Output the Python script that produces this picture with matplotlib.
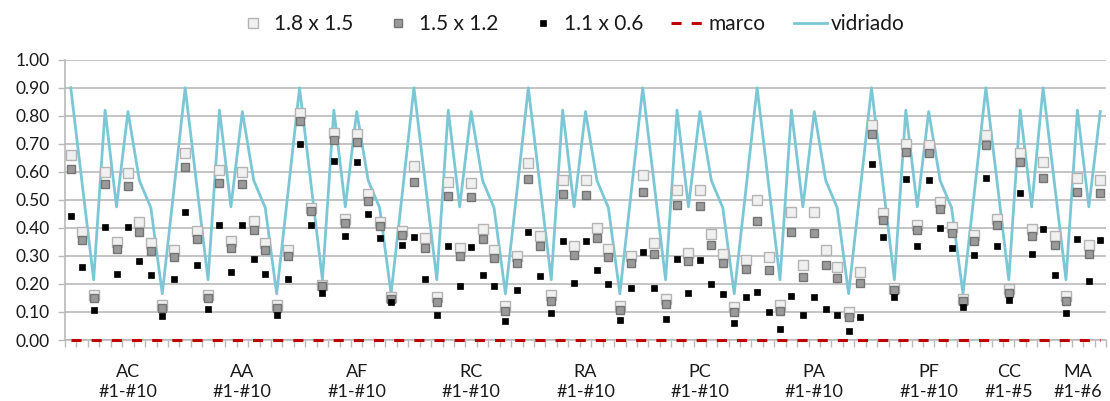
import matplotlib
matplotlib.use("Agg")
import matplotlib.pyplot as plt
from matplotlib.ticker import FixedLocator, FormatStrFormatter

plt.rcParams['font.family'] = ['Lato', 'DejaVu Sans']

groups = ["AC", "AA", "AF", "RC", "RA", "PC", "PA", "PF", "CC", "MA"]
group_ranges = ["#1-#10"] * 8 + ["#1-#5", "#1-#6"]
group_sizes = [10, 10, 10, 10, 10, 10, 10, 10, 5, 6]
label_slot = [5, 5, 5, 5, 5, 5, 5, 5, 2, 3]   # which point of each group carries the label

s_18x15 = [
    0.66, 0.385, 0.16, 0.60, 0.35, 0.595, 0.42, 0.345, 0.125, 0.32,      # AC
    0.667, 0.39, 0.16, 0.605, 0.355, 0.60, 0.425, 0.345, 0.125, 0.32,    # AA
    0.81, 0.47, 0.195, 0.74, 0.43, 0.735, 0.52, 0.42, 0.155, 0.39,       # AF
    0.62, 0.365, 0.155, 0.565, 0.33, 0.56, 0.395, 0.32, 0.12, 0.30,      # RC
    0.63, 0.37, 0.16, 0.57, 0.335, 0.57, 0.40, 0.325, 0.12, 0.30,        # RA
    0.59, 0.345, 0.147, 0.535, 0.312, 0.535, 0.377, 0.306, 0.118, 0.285, # PC
    0.50, 0.295, 0.126, 0.458, 0.267, 0.456, 0.321, 0.259, 0.10, 0.243,  # PA
    0.767, 0.453, 0.187, 0.70, 0.412, 0.695, 0.492, 0.404, 0.146, 0.373, # PF
    0.73, 0.43, 0.181, 0.667, 0.395,                                     # CC
    0.635, 0.372, 0.158, 0.577, 0.338, 0.572,                            # MA
]
s_15x12 = [
    0.61, 0.358, 0.149, 0.556, 0.323, 0.551, 0.387, 0.316, 0.115, 0.295,
    0.617, 0.359, 0.150, 0.560, 0.328, 0.556, 0.392, 0.321, 0.115, 0.299,
    0.781, 0.459, 0.191, 0.712, 0.416, 0.706, 0.496, 0.406, 0.148, 0.376,
    0.565, 0.329, 0.135, 0.513, 0.299, 0.509, 0.359, 0.293, 0.104, 0.273,
    0.573, 0.336, 0.139, 0.522, 0.305, 0.518, 0.364, 0.297, 0.107, 0.276,
    0.528, 0.308, 0.127, 0.481, 0.281, 0.477, 0.338, 0.274, 0.10, 0.255,
    0.424, 0.249, 0.104, 0.387, 0.225, 0.383, 0.269, 0.220, 0.081, 0.203,
    0.736, 0.429, 0.178, 0.671, 0.391, 0.667, 0.468, 0.383, 0.140, 0.355,
    0.697, 0.409, 0.169, 0.635, 0.371,
    0.579, 0.339, 0.140, 0.528, 0.308, 0.524,
]
s_11x06 = [
    0.444, 0.259, 0.108, 0.404, 0.236, 0.403, 0.283, 0.232, 0.085, 0.217,
    0.455, 0.267, 0.110, 0.412, 0.243, 0.411, 0.290, 0.237, 0.088, 0.219,
    0.701, 0.411, 0.169, 0.640, 0.372, 0.634, 0.448, 0.365, 0.134, 0.338,
    0.368, 0.217, 0.088, 0.335, 0.194, 0.333, 0.233, 0.191, 0.069, 0.179,
    0.387, 0.229, 0.095, 0.354, 0.205, 0.352, 0.248, 0.201, 0.072, 0.187,
    0.315, 0.185, 0.076, 0.288, 0.168, 0.286, 0.200, 0.164, 0.060, 0.153,
    0.172, 0.101, 0.041, 0.158, 0.090, 0.155, 0.110, 0.089, 0.033, 0.083,
    0.629, 0.368, 0.153, 0.573, 0.334, 0.570, 0.400, 0.327, 0.118, 0.302,
    0.577, 0.336, 0.141, 0.525, 0.307,
    0.397, 0.231, 0.095, 0.360, 0.212, 0.358,
]
vidriado = [
    0.90, 0.557, 0.215, 0.82, 0.475, 0.815, 0.569, 0.472, 0.165, 0.53,   # AC
    0.90, 0.557, 0.215, 0.82, 0.475, 0.815, 0.569, 0.472, 0.165, 0.53,   # AA
    0.90, 0.557, 0.215, 0.82, 0.475, 0.815, 0.569, 0.472, 0.165, 0.53,   # AF
    0.90, 0.557, 0.215, 0.82, 0.475, 0.815, 0.569, 0.472, 0.165, 0.53,   # RC
    0.90, 0.557, 0.215, 0.82, 0.475, 0.815, 0.569, 0.472, 0.165, 0.53,   # RA
    0.90, 0.557, 0.215, 0.82, 0.475, 0.815, 0.569, 0.472, 0.165, 0.53,   # PC
    0.90, 0.557, 0.215, 0.82, 0.475, 0.815, 0.569, 0.472, 0.165, 0.53,   # PA
    0.90, 0.557, 0.215, 0.82, 0.475, 0.815, 0.569, 0.472, 0.165, 0.53,   # PF
    0.90, 0.557, 0.215, 0.82, 0.475,                                     # CC
    0.90, 0.557, 0.215, 0.82, 0.475, 0.815,                              # MA
]
marco = [0.0] * 91

x = list(range(len(vidriado)))

fig = plt.figure(figsize=(11.10, 4.01), dpi=100)
ax = fig.add_axes([0.0586, 0.1521, 0.9378, 0.699])

grid_c = '#bababa'
ax.set_ylim(0, 1.0)
ax.set_xlim(-0.5, len(x) - 0.5)
ax.set_yticks([i / 10 for i in range(11)])
ax.yaxis.set_major_formatter(FormatStrFormatter('%.2f'))
ax.grid(axis='y', color=grid_c, linewidth=1.2, zorder=0)
ax.set_axisbelow(True)
for s in ['top', 'right']:
    ax.spines[s].set_visible(False)
for s in ['left', 'bottom']:
    ax.spines[s].set_color(grid_c)
    ax.spines[s].set_linewidth(1.2)

ax.plot(x, marco, color='#c00000', linewidth=2.2, dashes=(3.3, 3.3), zorder=7,
        clip_on=False, label='marco')
ax.plot(x, vidriado, color='#7cc7d6', linewidth=2.0, zorder=3, label='vidriado')
ax.plot(x, s_18x15, linestyle='none', marker='s', markersize=6.6, markerfacecolor='#f0f0f0',
        markeredgecolor='#b3b3b3', markeredgewidth=1.0, zorder=4, label='1.8 x 1.5')
ax.plot(x, s_15x12, linestyle='none', marker='s', markersize=6.0, markerfacecolor='#9a9a9a',
        markeredgecolor='#747474', markeredgewidth=1.0, zorder=5, label='1.5 x 1.2')
ax.plot(x, s_11x06, linestyle='none', marker='s', markersize=5.0, markerfacecolor='black',
        markeredgecolor='black', markeredgewidth=0.5, zorder=6, label='1.1 x 0.6')

# x ticks: minor marks at point boundaries, labels under chosen points
ax.xaxis.set_minor_locator(FixedLocator([i - 0.5 for i in range(len(x) + 1)]))
pos = []
start = 0
for n, slot in zip(group_sizes, label_slot):
    pos.append(start + slot)
    start += n
ax.set_xticks(pos)
ax.set_xticklabels([f"{g}\n{r}" for g, r in zip(groups, group_ranges)], fontsize=13,
                   linespacing=1.32)
ax.tick_params(axis='x', which='major', length=0, pad=17, colors='#1a1a1a')
ax.tick_params(axis='x', which='minor', length=5, width=1.0, color=grid_c)
ax.tick_params(axis='y', length=5, width=1.0, color=grid_c, labelsize=12.5, pad=6,
               labelcolor='#1a1a1a')

h, l = ax.get_legend_handles_labels()
order = [2, 3, 4, 0, 1]
leg = fig.legend([h[i] for i in order], [l[i] for i in order], loc='center',
                 bbox_to_anchor=(0.514, 0.94), ncol=5, frameon=False, fontsize=15,
                 handlelength=1.6, handletextpad=0.2, columnspacing=1.35, numpoints=1,
                 borderaxespad=0)
for t in leg.get_texts():
    t.set_color('#1a1a1a')

fig.savefig('out.png', dpi=100)
